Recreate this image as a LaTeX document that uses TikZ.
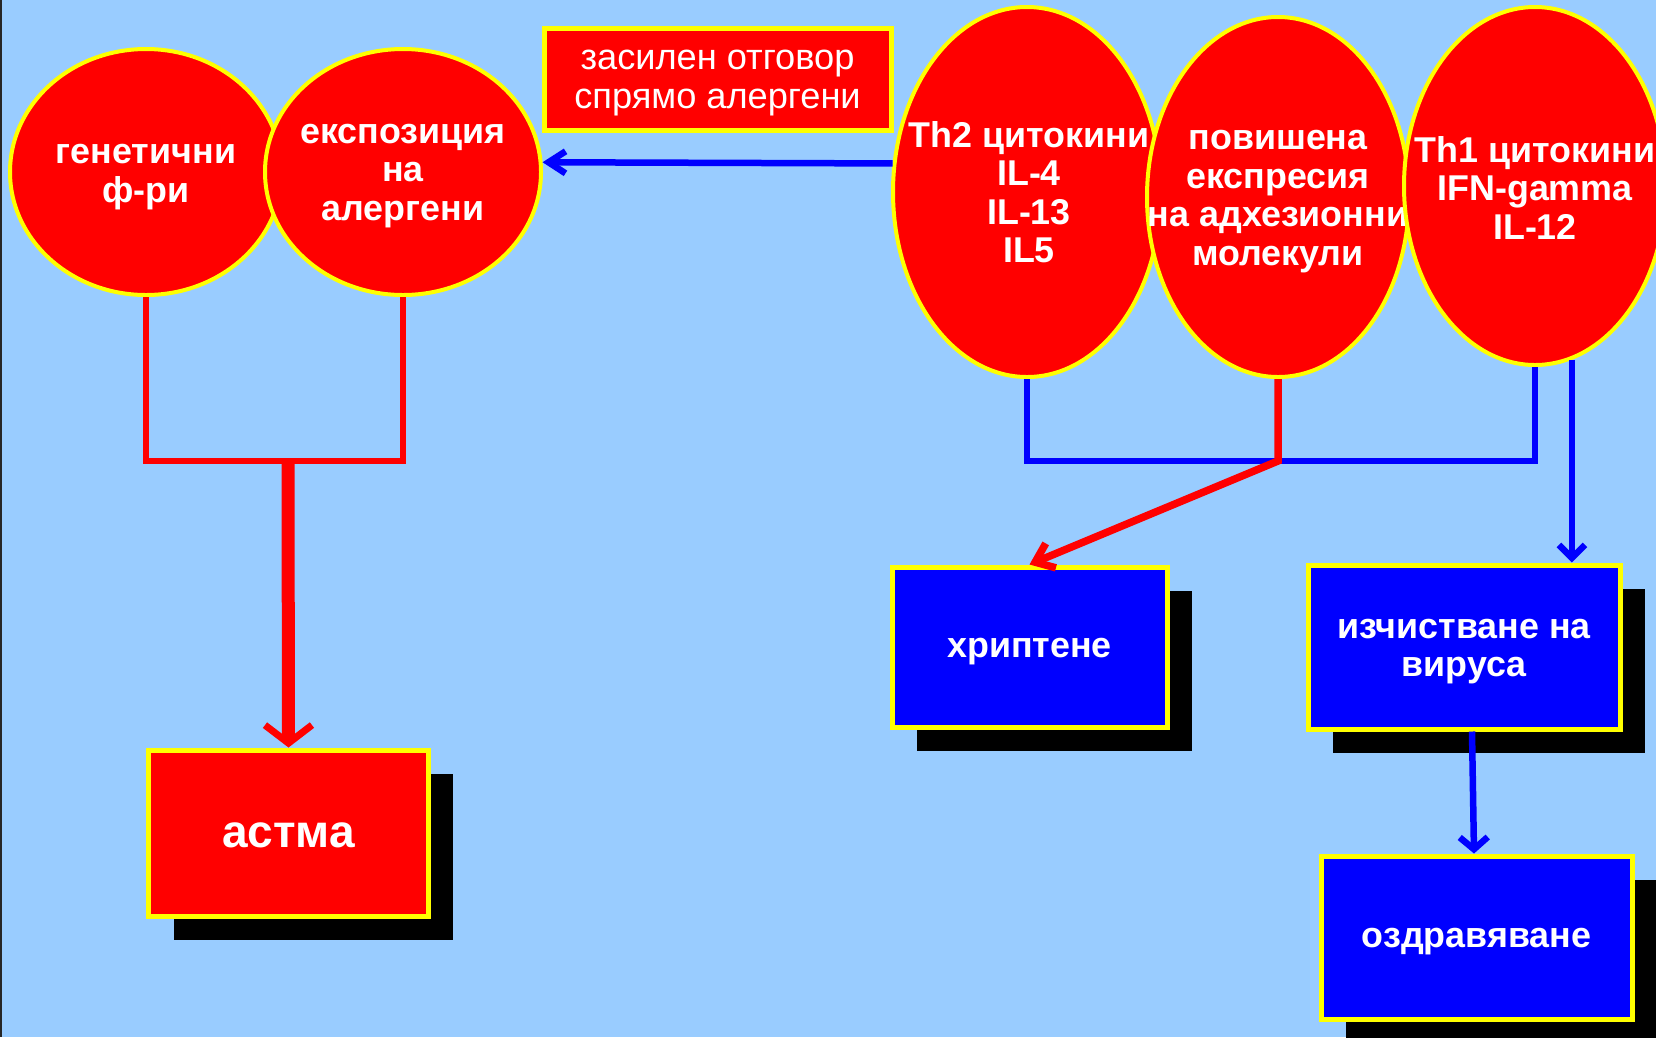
\documentclass[tikz,border=0pt]{standalone}
\usepackage{fontspec}
\setmainfont{Liberation Sans}
\usetikzlibrary{shapes.geometric,arrows.meta,shadows}

\definecolor{skyback}{RGB}{153,204,255}
\definecolor{pptred}{RGB}{255,0,0}
\definecolor{pptblue}{RGB}{0,0,255}
\definecolor{pptyellow}{RGB}{255,255,0}

\tikzset{
  oval/.style={ellipse, draw=pptyellow, line width=0.8mm, fill=pptred, inner sep=0pt},
  ovaltext/.style={text=white, inner sep=0pt, align=center,
    font=\bfseries\fontsize{20.4}{21.9}\selectfont},
  panel/.style={rectangle, draw=pptyellow, line width=1mm, inner sep=0pt},
  paneltext/.style={text=white, inner sep=0pt, align=center,
    font=\bfseries\fontsize{20.4}{21.2}\selectfont},
  boxshadow/.style={drop shadow={shadow xshift=4.9mm, shadow yshift=-4.7mm, fill=black, opacity=1}},
  redline/.style={draw=pptred, line width=1.3mm},
  blueline/.style={draw=pptblue, line width=1.3mm},
}

\begin{document}
\begin{tikzpicture}[x=0.2mm, y=-0.2mm]
% background
\fill[skyback] (0,0) rectangle (1656,1037);
\useasboundingbox (0,0) rectangle (1656,1037);
\clip (0,0) rectangle (1656,1037);
\fill[black!85] (0,0) rectangle (2,1037);

% Causes
\node[oval, minimum width=54.4mm, minimum height=49.2mm] (gen) at (146,172) {};
\node[ovaltext] (gentext) at ([yshift=-1mm]gen.center) {генетични\\ф-ри};
\node[oval, minimum width=55.2mm, minimum height=49.2mm] (expo) at (403,172) {};
\node[ovaltext] (expotext) at ([yshift=-0.8mm]expo.center) {експозиция\\на\\алергени};
\node[panel, fill=pptred, minimum width=69.4mm, minimum height=20.4mm] (resp) at (717.5,79) {};
\node[paneltext, font=\fontsize{20.6}{22.2}\selectfont] (resptext) at ([yshift=-0.8mm]resp.center) {засилен отговор\\спрямо алергени};

% Cytokines
\node[oval, minimum width=53.6mm, minimum height=74mm] (th2) at (1027,192) {};
\node[ovaltext] (th2text) at ([xshift=0.4mm]th2.center) {Th2 цитокини\\IL-4\\IL-13\\IL5};
\node[oval, minimum width=52.4mm, minimum height=72mm] (adh) at (1278,197) {};
\node[ovaltext] (adhtext) at ([yshift=-0.9mm]adh.center) {повишена\\експресия\\на адхезионни\\молекули};
\node[oval, minimum width=52.4mm, minimum height=71.6mm] (th1) at (1535,186) {};
\node[ovaltext] (th1text) at ([yshift=-0.4mm]th1.center) {Th1 цитокини\\IFN-gamma\\IL-12};

% Outcomes
\node[panel, boxshadow, fill=pptred, minimum width=55.8mm, minimum height=33.2mm] (asthma) at (288.5,833) {};
\node[paneltext, font=\bfseries\fontsize{26.2}{30}\selectfont] (asthmatext) at ([yshift=-0.4mm]asthma.center) {астма};
\node[panel, boxshadow, fill=pptblue, minimum width=55mm, minimum height=32mm] (wheeze) at (1029.5,647) {};
\node[paneltext] (wheezetext) at ([yshift=-0.9mm]wheeze.center) {хриптене};
\node[panel, boxshadow, fill=pptblue, minimum width=62.4mm, minimum height=32.8mm] (clear) at (1464,647) {};
\node[paneltext] (cleartext) at ([yshift=-0.9mm]clear.center) {изчистване на\\вируса};
\node[panel, boxshadow, fill=pptblue, minimum width=62.2mm, minimum height=32.6mm] (heal) at (1476.5,937.5) {};
\node[paneltext] (healtext) at ([yshift=-0.9mm]heal.center) {оздравяване};

% Left branch
\coordinate (lj) at (288,461);
\draw[redline] (gen.south) -- (gen.south |- lj) -- (expo.south |- lj) -- (expo.south);
\draw[redline, line width=2.6mm, -{Straight Barb[length=3.6mm, width=9.4mm, line width=1.4mm]}] (lj) -- (asthma.north);
\draw[blueline, -{Straight Barb[length=3.4mm, width=4.4mm]}] (th2.168) -- (expo.4);

% Right branch
\coordinate (rj) at (1278,461);
\draw[blueline] (th2.south) -- (th2.south |- rj) -- (th1.south |- rj) -- (th1.south);
\draw[redline, line width=1.5mm, -{Straight Barb[length=3.4mm, width=5.3mm]}] (adh.south) -- (rj) -- (wheeze.north);
\draw[blueline, -{Straight Barb[length=2.6mm, width=5.2mm]}] (th1.-78) -- (th1.-78 |- clear.north);
\draw[blueline, -{Straight Barb[length=2.4mm, width=5.6mm]}] ([xshift=1.6mm]clear.south) -- ([xshift=-0.5mm]heal.north);
\end{tikzpicture}
\end{document}
